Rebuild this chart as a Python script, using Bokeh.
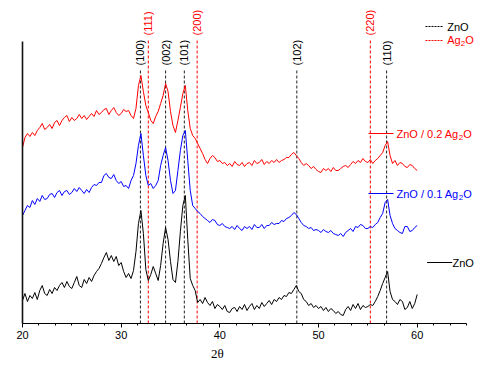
import numpy as np
from bokeh.plotting import figure
from bokeh.models import Range1d, SingleIntervalTicker, FixedTicker, LinearAxis
from bokeh.core.properties import value
from bokeh.embed import file_html
from bokeh.resources import INLINE

# ---- data (intensities in arbitrary units, already offset as plotted) ----
two_theta = np.round(np.arange(20.0, 60.0001, 0.25), 2)

zno = [
    23, 30, 22, 28,   25, 31, 24, 33,   38, 30, 28, 34,   30, 36, 33, 38,
    41, 36, 42, 37,   35, 41, 47, 38,   36, 44, 40, 46,   42, 48, 52, 55,
    60, 66, 71, 63,   68, 62, 67, 58,   61, 52, 46, 50,   45, 53, 72, 100,
    113, 90, 54, 43,  49, 57, 50, 43,   58, 80, 96, 84,   62, 44, 41, 62,
    92, 118, 128, 84, 45, 38, 33, 21,   24, 20, 26, 21,   18, 22, 15, 19,
    17, 14, 18, 12,   11, 15, 16, 12,   17, 14, 19, 13,   17, 20, 14, 18,
    15, 21, 17, 20,   23, 19, 24, 22,   26, 24, 28, 27,   31, 30, 34, 38,
    32, 30, 24, 22,   18, 20, 16, 18,   15, 17, 13, 16,   12, 15, 13, 10,
    12, 9, 8, 14,     17, 13, 19, 15,   20, 14, 18, 16,   17, 19, 18, 22,
    27, 33, 40, 46,   52, 32, 24, 22,   19, 24, 22, 14,   16, 22, 15, 20,
    29,
]

zno_01 = [
    108, 113, 118, 116, 123, 119, 125, 122, 128, 124, 125, 129, 130, 126, 131, 133,
    128, 132, 133, 129, 131, 135, 132, 136, 133, 130, 134, 131, 136, 139, 138, 141,
    141, 148, 150, 146, 145, 149, 143, 140, 142, 137, 138, 135, 143, 148, 160, 178,
    190, 168, 148, 138, 140, 135, 138, 143, 158, 168, 176, 163, 143, 130, 133, 153,
    173, 188, 193, 163, 133, 118, 115, 112, 110, 107, 105, 103, 101, 104, 103, 99,
    98, 100, 97, 96,    95, 97, 94, 98,    95, 93, 97, 95,    97, 94, 99, 96,
    96, 99, 95, 98,     98, 101, 99, 100,  100, 103, 102, 105, 106, 108, 111, 109,
    105, 101, 98, 97,   95, 96, 93, 94,    93, 91, 94, 92,    91, 93, 90, 89,
    88, 90, 87, 91,     93, 95, 92, 97,    96, 99, 98, 95,    95, 97, 96, 99,
    101, 106, 110, 121, 124, 108, 100, 95, 93, 91, 90, 97,    97, 92, 93, 96,
    98,
]

zno_02 = [
    176, 186, 190, 187, 191, 188, 193, 196, 200, 194, 196, 199, 195, 201, 203, 198,
    203, 206, 208, 202, 206, 203, 205, 209, 205, 208, 204, 207, 210, 207, 213, 209,
    211, 214, 215, 209, 213, 216, 211, 208, 210, 214, 212, 213, 208, 205, 215, 238,
    248, 232, 218, 211, 203, 200, 207, 212, 220, 228, 240, 232, 212, 198, 191, 203,
    216, 230, 238, 213, 195, 188, 185, 180, 175, 170, 164, 160, 165, 168, 166, 162,
    163, 160, 161, 158, 160, 157, 162, 159, 158, 161, 157, 160, 161, 158, 163, 160,
    161, 164, 159, 162, 160, 163, 161, 164, 161, 163, 164, 166, 166, 169, 171, 168,
    165, 161, 158, 160, 158, 155, 157, 154, 152, 151, 155, 153, 155, 152, 156, 153,
    153, 155, 157, 158, 156, 159, 162, 160, 163, 161, 165, 162, 161, 164, 160, 163,
    165, 168, 171, 178, 182, 168, 160, 163, 158, 161, 160, 157, 156, 159, 158, 155,
    153,
]

zno_peaks = [31.95, 34.5, 36.4, 47.8, 56.9]
zno_hkl = ["(100)", "(002)", "(101)", "(102)", "(110)"]
ag2o_peaks = [32.75, 37.7, 55.25]
ag2o_hkl = ["(111)", "(200)", "(220)"]

x_ticks_major = 10
x_title = "2θ"

# ---- figure ----
FONT = "Liberation Sans"
PX = 9.8675  # pixels per degree
W, LEFT = 478, 22
x_end = 20 + (W - LEFT) / PX
p = figure(width=W, height=365, output_backend="svg", toolbar_location=None,
           x_range=Range1d(20, x_end), y_range=Range1d(0, 315),
           min_border_left=LEFT, min_border_right=0, min_border_top=8,
           min_border_bottom=42)
p.outline_line_color = None
p.xgrid.visible = False
p.ygrid.visible = False
p.background_fill_color = "white"

xa = p.xaxis[0]
xa.bounds = (20, 65)
xa.ticker = SingleIntervalTicker(interval=x_ticks_major, num_minor_ticks=6)
xa.axis_line_color = "black"
xa.axis_line_width = 1
xa.major_tick_in = 0
xa.major_tick_out = 4
xa.minor_tick_in = 0
xa.minor_tick_out = 2
xa.major_tick_line_color = "black"
xa.minor_tick_line_color = "black"
xa.major_label_text_font = FONT
xa.major_label_text_font_size = "11px"
xa.major_label_text_color = "black"
xa.major_label_standoff = 3

# secondary axis carrying only the axis title, placed as a tick label
TITLE_X = 39.75
xt = LinearAxis(ticker=FixedTicker(ticks=[TITLE_X]),
                major_label_overrides={TITLE_X: x_title},
                axis_line_color=None, major_tick_line_color=None,
                minor_tick_line_color=None, major_tick_out=0, minor_tick_out=0,
                major_tick_in=0, minor_tick_in=0,
                major_label_standoff=4,
                major_label_text_font="Liberation Serif",
                major_label_text_font_size="13px",
                major_label_text_color="black")
p.add_layout(xt, "below")

ya = p.yaxis[0]
ya.bounds = (0, 282)
ya.ticker = FixedTicker(ticks=[])
ya.axis_line_color = "#111111"
ya.axis_line_width = 1.6
ya.major_tick_line_color = None
ya.minor_tick_line_color = None
ya.major_label_text_font_size = "0px"

# reference lines
p.segment(x0=zno_peaks, y0=0, x1=zno_peaks, y1=255, line_color="#222222",
          line_width=1, line_dash="3 2")
p.segment(x0=ag2o_peaks, y0=0, x1=ag2o_peaks, y1=285, line_color="#ff0000",
          line_width=1, line_dash="3 2")
p.text(x=zno_peaks, y=258, text=zno_hkl, angle=np.pi / 2, text_align="left",
       text_baseline="middle", text_font=value(FONT), text_font_size="11px",
       text_color="black")
p.text(x=ag2o_peaks, y=288, text=ag2o_hkl, angle=np.pi / 2, text_align="left",
       text_baseline="middle", text_font=value(FONT), text_font_size="11px",
       text_color="#ff0000")

# traces
p.line(two_theta, zno, line_color="black", line_width=1)
p.line(two_theta, zno_01, line_color="#0000ff", line_width=1)
p.line(two_theta, zno_02, line_color="#ff0000", line_width=1)

# text helpers
EM = {"Z": .611, "n": .556, "O": .778, " ": .278, "/": .278, ".": .278,
      "A": .667, "g": .556}
def width(s, fs):
    return sum(EM.get(c, .556) for c in s) * fs

def chem(x, y, head, color, fs=11):
    w = width(head, fs)
    kw = dict(text_baseline="middle", text_align="left", text_font=value(FONT),
              text_color=color)
    p.text(x=[x], y=[y], text=[head], text_font_size=f"{fs}px", **kw)
    p.text(x=[x], y=[y - 3.5], text=["2"], x_offset=w, text_font_size="8px", **kw)
    p.text(x=[x], y=[y], text=["O"], x_offset=w + 4.5, text_font_size=f"{fs}px", **kw)

# series labels
p.segment(x0=[55.07], y0=[190], x1=[57.6], y1=[190], line_color="#ff0000", line_width=1)
chem(57.9, 190, "ZnO / 0.2 Ag", "#ff0000")
p.segment(x0=[55.07], y0=[130], x1=[57.6], y1=[130], line_color="#0000ff", line_width=1)
chem(57.9, 130, "ZnO / 0.1 Ag", "#0000ff")
p.segment(x0=[61.0], y0=[61], x1=[63.55], y1=[61], line_color="black", line_width=1)
p.text(x=[63.58], y=[61], text=["ZnO"], text_baseline="middle", text_align="left",
       text_font=value(FONT), text_font_size="11px", text_color="black")

# legend
p.segment(x0=[60.84], y0=[297], x1=[62.67], y1=[297], line_color="black",
          line_width=1, line_dash="2 1")
p.text(x=[63.04], y=[297], text=["ZnO"], text_baseline="middle", text_align="left",
       text_font=value(FONT), text_font_size="11px", text_color="black")
p.segment(x0=[60.84], y0=[283], x1=[62.67], y1=[283], line_color="#ff0000",
          line_width=1, line_dash="2 1")
chem(63.04, 284, "Ag", "#ff0000")

open("out.html", "w").write(file_html(p, INLINE))
